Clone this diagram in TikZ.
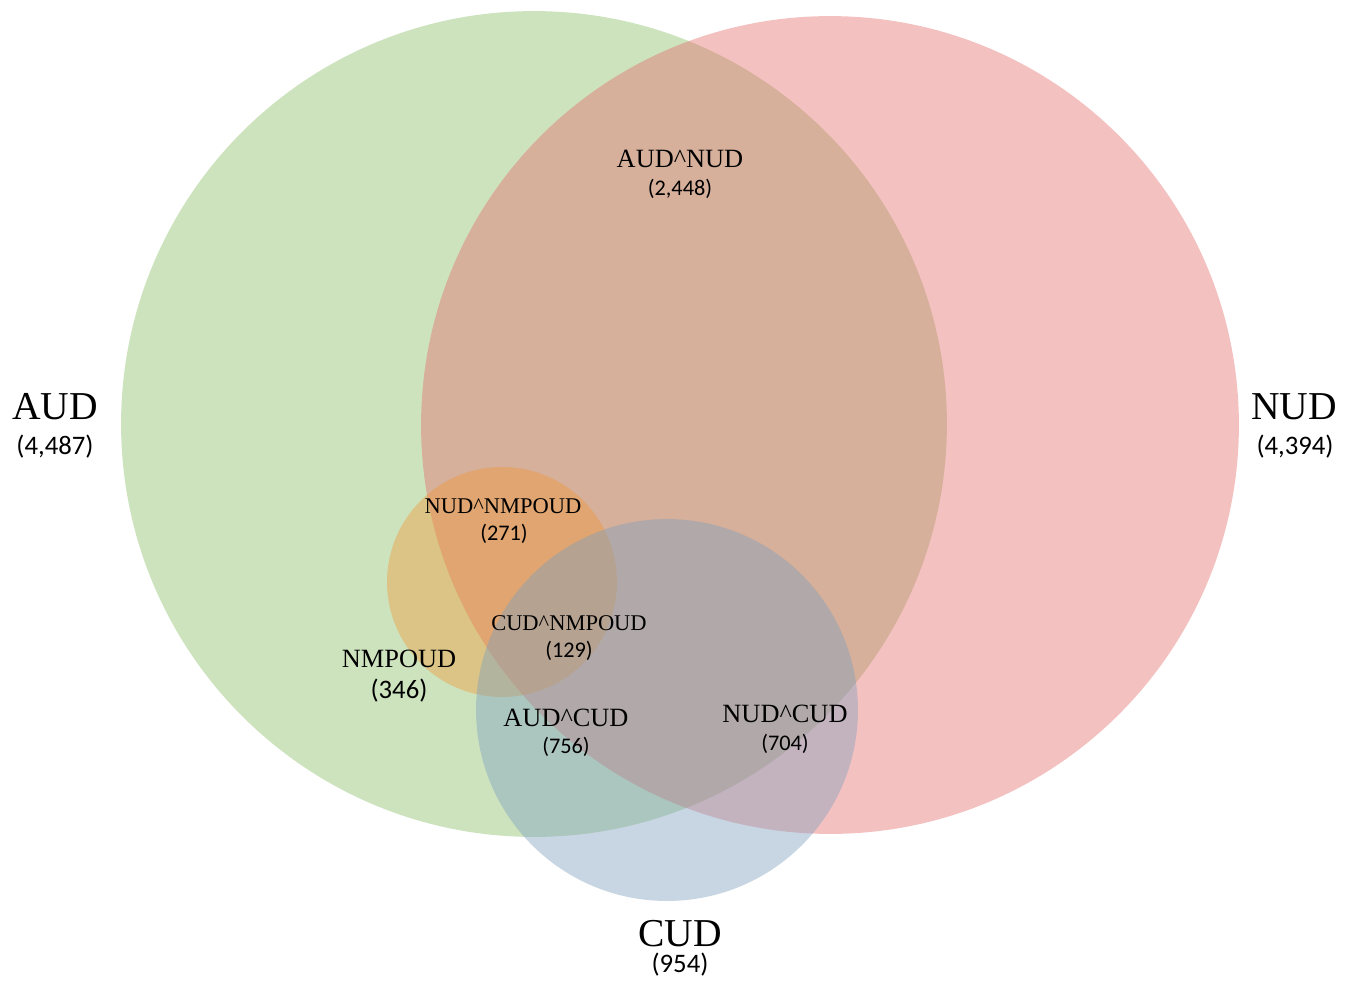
\documentclass[tikz,border=0pt]{standalone}
\usepackage{fontspec}
\setmainfont{Liberation Serif}
\newfontfamily\cntfont{Carlito}
\usepackage{tikz}
\usetikzlibrary{positioning}
\definecolor{AudGreen}{RGB}{130,185,92}
\definecolor{NudPink}{RGB}{228,100,100}
\definecolor{CudBlue}{RGB}{128,160,190}
\definecolor{NmpOrange}{RGB}{240,150,50}
\newcommand{\andsym}{\textasciicircum}

\begin{document}
\begin{tikzpicture}[
  x=0.02cm, y=-0.02cm,
  setfill/.style={fill=#1, fill opacity=0.4},
  bigname/.style={font=\fontsize{22.5}{27}\selectfont, anchor=base, inner sep=0pt},
  midname/.style={font=\fontsize{15}{18}\selectfont, anchor=base, inner sep=0pt},
  smallname/.style={font=\fontsize{12.8}{15}\selectfont, anchor=base, inner sep=0pt},
  bigcount/.style={font=\cntfont\fontsize{15.2}{18}\selectfont, anchor=base, inner sep=0pt},
  smallcount/.style={font=\cntfont\fontsize{12.7}{15}\selectfont, anchor=base, inner sep=0pt},
]
  \useasboundingbox (0,0) rectangle (1357,988);

  % the four sets
  \fill[setfill=AudGreen]  (534,424) circle[radius=8.26cm];
  \fill[setfill=NudPink]   (830,425) circle[radius=8.18cm];
  \fill[setfill=NmpOrange] (502,582) circle[radius=2.30cm];
  \fill[setfill=CudBlue, fill opacity=0.43] (667,710) circle[radius=3.82cm];

  % outer labels
  \node[bigname]  (aud)  at (55,419)   {AUD};
  \node[bigcount] (audn) at (55,454)   {(4,487)};
  \node[bigname]  (nud)  at (1294,419) {NUD};
  \node[bigcount] (nudn) at (1295,454) {(4,394)};
  \node[bigname]  (cud)  at (680,946)  {CUD};
  \node[bigcount] (cudn) at (680,972)  {(954)};

  % intersections
  \node[midname]    (audnud)  at (680,167) {AUD\andsym NUD};
  \node[smallcount] (audnudn) at (680,195) {(2,448)};
  \node[smallname]  (nudnmp)  at (503,513) {NUD\andsym NMPOUD};
  \node[smallcount] (nudnmpn) at (504,540) {(271)};
  \node[smallname]  (cudnmp)  at (569,630) {CUD\andsym NMPOUD};
  \node[smallcount] (cudnmpn) at (569,657) {(129)};
  \node[midname]    (nmp)     at (399,667) {NMPOUD};
  \node[bigcount]   (nmpn)    at (399,698) {(346)};
  \node[midname]    (audcud)  at (566,726) {AUD\andsym CUD};
  \node[smallcount] (audcudn) at (566,753) {(756)};
  \node[midname]    (nudcud)  at (785,722) {NUD\andsym CUD};
  \node[smallcount] (nudcudn) at (785,750) {(704)};
\end{tikzpicture}
\end{document}
